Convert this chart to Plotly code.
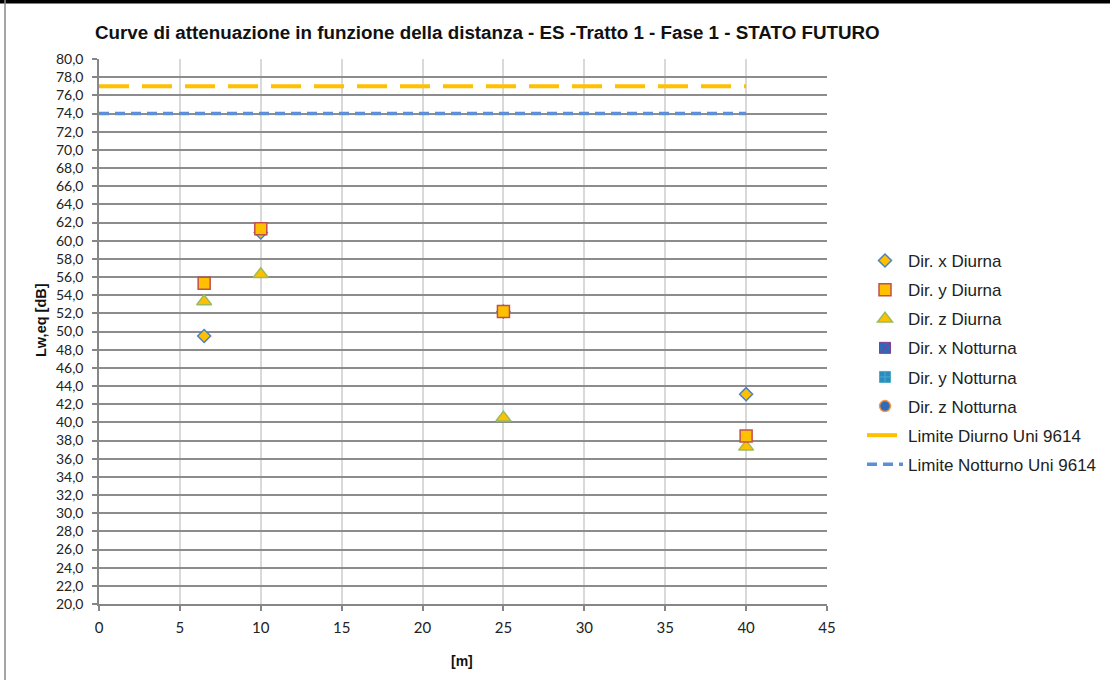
import plotly.graph_objects as go

# Data
distances = [6.5, 10, 25, 40]
dir_x_diurna = [49.5, 60.9, 52.2, 43.1]
dir_y_diurna = [55.3, 61.3, 52.2, 38.5]
dir_z_diurna = [53.3, 56.3, 40.5, 37.3]
dir_x_notturna = [None]
dir_y_notturna = [None]
dir_z_notturna = [None]
limit_x = [0, 40]
limite_diurno = [77, 77]
limite_notturno = [74, 74]

y_ticks = [20 + 2 * i for i in range(31)]
x_ticks = [0, 5, 10, 15, 20, 25, 30, 35, 40, 45]

W, H = 1110, 680
L, R, T, B = 99, 283, 59, 76
PW, PH = W - L - R, H - T - B

fig = go.Figure()

fig.add_trace(go.Scatter(x=limit_x, y=limite_diurno, mode="lines", name="Limite Diurno Uni 9614",
                         line=dict(color="#FFC000", width=4, dash="30px,13px"), legendrank=7,
                         legendgroup="g7"))
fig.add_trace(go.Scatter(x=limit_x, y=limite_notturno, mode="lines", name="Limite Notturno Uni 9614",
                         line=dict(color="#5B8FD6", width=3.5, dash="10px,6px"), legendrank=8,
                         legendgroup="g8"))

fig.add_trace(go.Scatter(x=distances, y=dir_x_diurna, mode="markers", name="Dir. x Diurna",
                         marker=dict(symbol="diamond", size=10, color="#FFC000",
                                     line=dict(color="#4F81BD", width=1.5)), legendrank=1,
                         legendgroup="g1"))
fig.add_trace(go.Scatter(x=distances, y=dir_z_diurna, mode="markers", name="Dir. z Diurna",
                         marker=dict(symbol="triangle-up", size=13, color="#FFC000",
                                     line=dict(color="#9BBB59", width=1.5)), legendrank=3,
                         legendgroup="g3"))
fig.add_trace(go.Scatter(x=distances, y=dir_y_diurna, mode="markers", name="Dir. y Diurna",
                         marker=dict(symbol="square", size=12, color="#FFC000",
                                     line=dict(color="#C0504D", width=1.5)), legendrank=2,
                         legendgroup="g2"))
fig.add_trace(go.Scatter(x=dir_x_notturna, y=dir_x_notturna, mode="markers", name="Dir. x Notturna",
                         marker=dict(symbol="square-x", size=11, color="#2E6BB8",
                                     line=dict(color="#7F3F98", width=1)), legendrank=4,
                         legendgroup="g4"))
fig.add_trace(go.Scatter(x=dir_y_notturna, y=dir_y_notturna, mode="markers", name="Dir. y Notturna",
                         marker=dict(symbol="square-cross", size=11, color="#2E8BC0",
                                     line=dict(color="#4BACC6", width=1)), legendrank=5,
                         legendgroup="g5"))
fig.add_trace(go.Scatter(x=dir_z_notturna, y=dir_z_notturna, mode="markers", name="Dir. z Notturna",
                         marker=dict(symbol="circle", size=11, color="#2E6BB8",
                                     line=dict(color="#F79646", width=1.5)), legendrank=6,
                         legendgroup="g6"))

fig.update_layout(
    width=W, height=H,
    margin=dict(l=L, r=R, t=T, b=B, autoexpand=False),
    paper_bgcolor="white", plot_bgcolor="white",
    separators=",.",
    font=dict(family="Liberation Sans, Arial", color="#222222"),
    title=dict(text="<b>Curve di attenuazione in funzione della distanza - ES -Tratto 1 - Fase 1 - STATO FUTURO</b>",
               x=95 / W, xanchor="left", xref="container",
               y=1 - 32 / H, yanchor="middle", yref="container",
               font=dict(size=18.8, family="Liberation Sans, Arial", color="#111111")),
    showlegend=True,
    legend=dict(x=(862 - L) / PW, xanchor="left", y=1 - (243 - T) / PH, yanchor="top",
                font=dict(size=17, family="Liberation Sans, Arial", color="#222222"),
                tracegroupgap=4, bgcolor="rgba(0,0,0,0)", itemwidth=36),
    xaxis=dict(range=[0, 45], tickvals=x_ticks, ticktext=[str(v) for v in x_ticks],
               showgrid=True, gridcolor="#D9D9D9", gridwidth=1.5,
               showline=True, linecolor="#868686", linewidth=1.5,
               ticks="outside", ticklen=5, tickcolor="#868686", tickwidth=1.5,
               ticklabelstandoff=4,
               tickfont=dict(size=15, family="Lato, Carlito, sans-serif", color="#222222"),
               zeroline=False),
    yaxis=dict(range=[20, 80], tickvals=y_ticks, tickformat=".1f",
               showgrid=True, gridcolor="#8C8C8C", gridwidth=1.5,
               showline=True, linecolor="#868686", linewidth=1.5,
               ticks="outside", ticklen=5, tickcolor="#868686", tickwidth=1.5,
               ticklabelstandoff=6,
               tickfont=dict(size=14, family="Lato, Carlito, sans-serif", color="#222222"),
               zeroline=False),
    annotations=[
        dict(text="<b>Lw,eq [dB]</b>", textangle=-90, x=(41 - L) / PW, y=1 - (320 - T) / PH,
             xref="paper", yref="paper",
             showarrow=False, xanchor="center", yanchor="middle",
             font=dict(size=14.5, family="Liberation Sans, Arial", color="#111111")),
        dict(text="<b>[m]</b>", x=(462 - L) / PW, y=-(661 - (T + PH)) / PH, xref="paper", yref="paper",
             showarrow=False, xanchor="center", yanchor="middle",
             font=dict(size=14, family="Liberation Sans, Arial", color="#111111")),
    ],
    shapes=[
        dict(type="line", xref="paper", yref="paper",
             x0=-L / PW, x1=(W - L) / PW, y0=1 + (T - 1.5) / PH, y1=1 + (T - 1.5) / PH,
             line=dict(color="black", width=4)),
        dict(type="line", xref="paper", yref="paper",
             x0=(5 - L) / PW, x1=(5 - L) / PW, y0=1 + T / PH, y1=-B / PH,
             line=dict(color="#888888", width=1.5)),
    ],
)

fig.write_html("out.html", config={"displayModeBar": False},
               post_script="document.body.style.margin='0';document.body.style.overflow='hidden';")
